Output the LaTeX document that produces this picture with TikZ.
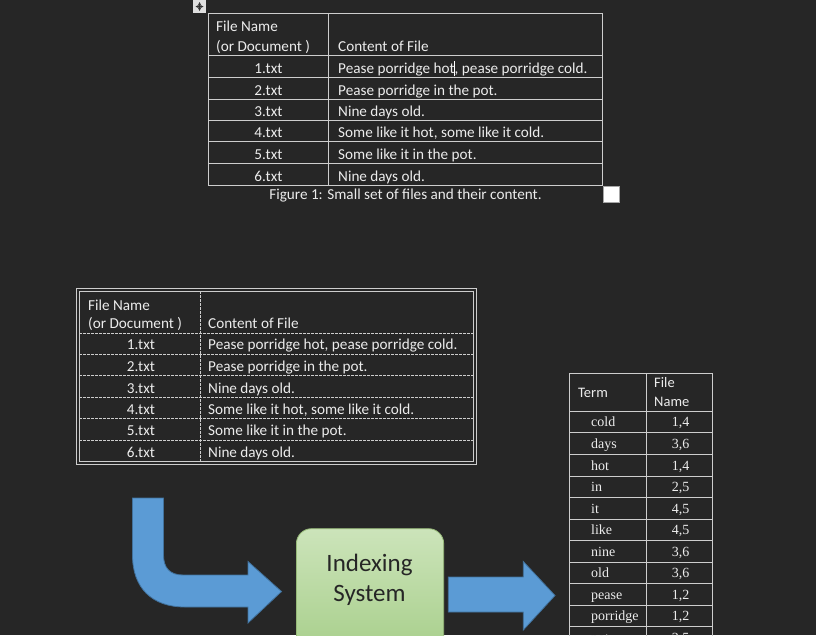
\documentclass[tikz,border=0pt]{standalone}
\usepackage{fontspec}
\setmainfont{Carlito}
\newfontfamily\termfont{Liberation Serif}
\definecolor{bgc}{RGB}{38,38,38}
\definecolor{tc}{RGB}{236,236,236}
\definecolor{lc}{RGB}{205,205,205}
\definecolor{arrowblue}{RGB}{91,155,213}
\definecolor{arrowedge}{RGB}{65,113,156}
\definecolor{boxtop}{RGB}{204,228,186}
\definecolor{boxbot}{RGB}{163,204,133}
\definecolor{boxedge}{RGB}{150,185,120}
\newcommand{\txtcursor}{\makebox[0pt][l]{\hspace{-0.3pt}\color{white}\rule[-3pt]{0.9pt}{15pt}}}
\tikzset{
  tline/.style={draw=lc, line width=0.9pt},
  dline/.style={draw=lc, line width=0.8pt, dash pattern=on 2.5pt off 1.5pt},
  txt/.style={text=tc, font=\fontsize{15.2}{18}\selectfont, inner sep=0pt, anchor=base west},
  ctxt/.style={txt, anchor=base},
  htxt/.style={txt, font=\fontsize{14.5}{17}\selectfont},
  ttxt/.style={text=tc, font=\termfont\fontsize{14}{16}\selectfont, inner sep=0pt, anchor=base west},
  vtxt/.style={ttxt, anchor=base},
  bigarrow/.style={fill=arrowblue, draw=arrowedge, line width=0.8pt, line join=miter},
  sysbox/.style={rounded corners=15pt, top color=boxtop, bottom color=boxbot, draw=boxedge, line width=0.8pt},
  systxt/.style={text=black!85, font=\fontsize{25}{30}\selectfont, inner sep=0pt, anchor=base}
}
\begin{document}
\begin{tikzpicture}[x=1pt,y=-1pt]
\fill[bgc] (0,0) rectangle (816,635);
\useasboundingbox (0,0) rectangle (816,635);
\clip (0,0) rectangle (816,635);

% ---- move handle icon
\fill[gray!25!white] (193,0) rectangle (206,13);
\draw[gray!40!black, line width=0.6pt, <->, >=stealth] (195.5,6.5) -- (203.5,6.5);
\draw[gray!40!black, line width=0.6pt, <->, >=stealth] (199.5,2) -- (199.5,11);

% ---- top table
\draw[tline] (208,13.3) rectangle (602.7,185);
\draw[tline] (328.3,13.3) -- (328.3,185);
\foreach \yy in {55.7,77.3,99,120.3,141.7,163.3}
  \draw[tline] (208,\yy) -- (602.7,\yy);
\node[txt] (ah1) at (216,31.7) {File Name};
\node[txt] (ah2) at (216,51.7) {(or Document )};
\node[txt] (ah3) at (338,51.7) {Content of File};
\node[ctxt] (af1) at (268.5,73.3) {1.txt};
\node[ctxt] (af2) at (268.5,95) {2.txt};
\node[ctxt] (af3) at (268.5,116.3) {3.txt};
\node[ctxt] (af4) at (268.5,137.7) {4.txt};
\node[ctxt] (af5) at (268.5,159.3) {5.txt};
\node[ctxt] (af6) at (268.5,181) {6.txt};
\node[txt] (ac1) at (338,73.3) {Pease porridge hot\txtcursor, pease porridge cold.};
\node[txt] (ac2) at (338,95) {Pease porridge in the pot.};
\node[txt] (ac3) at (338,116.3) {Nine days old.};
\node[txt] (ac4) at (338,137.7) {Some like it hot, some like it cold.};
\node[txt] (ac5) at (338,159.3) {Some like it in the pot.};
\node[txt] (ac6) at (338,181) {Nine days old.};
\node[ctxt] (cap) at (405.5,199) {Figure 1: Small set of files and their content.};
\draw[fill=white, draw=gray!70] (603.5,186.5) rectangle (619,202);

% ---- bottom-left table
\draw[draw=lc, line width=0.7pt] (76.5,288.5) rectangle (476,464);
\draw[draw=lc, line width=0.7pt] (79,291) rectangle (473.5,461.5);
\draw[dline] (200,291) -- (200,461.5);
\foreach \yy in {333.3,354.3,375.7,397.3,418.7,440.3}
  \draw[dline] (79,\yy) -- (473.5,\yy);
\node[txt] (bh1) at (88,310) {File Name};
\node[txt] (bh2) at (88,328.3) {(or Document )};
\node[txt] (bh3) at (208,328.3) {Content of File};
\node[ctxt] (bf1) at (141,349.8) {1.txt};
\node[ctxt] (bf2) at (141,371.2) {2.txt};
\node[ctxt] (bf3) at (141,393) {3.txt};
\node[ctxt] (bf4) at (141,414.3) {4.txt};
\node[ctxt] (bf5) at (141,435.8) {5.txt};
\node[ctxt] (bf6) at (141,457) {6.txt};
\node[txt] (bc1) at (208,349.8) {Pease porridge hot, pease porridge cold.};
\node[txt] (bc2) at (208,371.2) {Pease porridge in the pot.};
\node[txt] (bc3) at (208,393) {Nine days old.};
\node[txt] (bc4) at (208,414.3) {Some like it hot, some like it cold.};
\node[txt] (bc5) at (208,435.8) {Some like it in the pot.};
\node[txt] (bc6) at (208,457) {Nine days old.};

% ---- right table (index)
\draw[tline] (569,373.3) rectangle (712.7,648);
\draw[tline] (646.7,373.3) -- (646.7,648);
\foreach \yy in {411.7,432.7,454,476,497.3,519,540.7,562.3,583.3,605,626.7}
  \draw[tline] (569,\yy) -- (712.7,\yy);
\node[htxt] (th1) at (578,397.7) {Term};
\node[htxt] (th2) at (654,387.3) {File};
\node[htxt] (th3) at (654,406.7) {Name};
\foreach \yy/\tt/\vv [count=\i] in {426.7/cold/{1,4}, 448/days/{3,6}, 470/hot/{1,4}, 491.3/in/{2,5}, 513/it/{4,5}, 534.7/like/{4,5}, 556.3/nine/{3,6}, 577.3/old/{3,6}, 599/pease/{1,2}, 620.7/porridge/{1,2}, 642.7/pot/{2,5}} {
  \node[ttxt] (term\i) at (591,\yy) {\tt};
  \node[vtxt] (val\i) at (680.5,\yy) {\vv};
}

% ---- arrows and indexing system
\draw[bigarrow] (132.5,498) -- (132.5,555)
  .. controls (132.5,588) and (152,607) .. (185,607)
  -- (248,607) -- (248,623) -- (281.5,591.5) -- (248,561.5) -- (248,575)
  -- (183,575) .. controls (170,575) and (163.5,568) .. (163.5,555)
  -- (163.5,498) -- cycle;
\node[sysbox, minimum width=147.3pt, minimum height=140pt, anchor=north west] (sys) at (296,528.3) {};
\node[systxt] (sys1) at (369.5,571.7) {Indexing};
\node[systxt] (sys2) at (369.5,601.7) {System};
\draw[bigarrow] (448.3,577) -- (523.3,577) -- (523.3,561.5) -- (555,595.5)
  -- (523.3,630) -- (523.3,612) -- (448.3,612) -- cycle;
\end{tikzpicture}
\end{document}
